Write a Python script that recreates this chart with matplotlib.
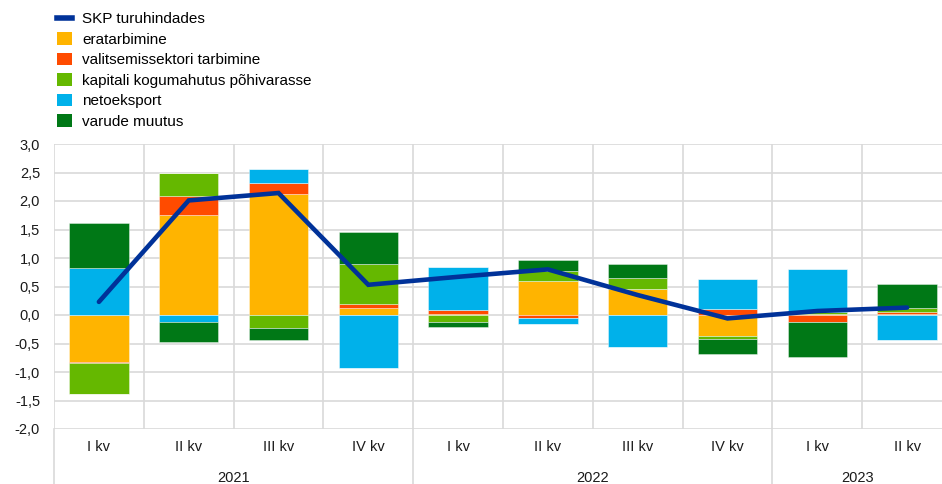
import matplotlib
matplotlib.use("Agg")
import matplotlib.pyplot as plt
import numpy as np
from matplotlib.patches import Patch
from matplotlib.lines import Line2D

plt.rcParams['font.family'] = ['Liberation Sans', 'DejaVu Sans']

quarters = ["I kv", "II kv", "III kv", "IV kv", "I kv", "II kv", "III kv", "IV kv", "I kv", "II kv"]
years = ["2021", "2022", "2023"]
year_counts = [4, 4, 2]

series_names = ["eratarbimine", "valitsemissektori tarbimine",
                "kapitali kogumahutus põhivarasse", "netoeksport", "varude muutus"]
eratarbimine = [-0.82, 1.75, 2.12, 0.13, 0.01, 0.59, 0.46, -0.37, 0.02, 0.01]
valitsemis = [-0.03, 0.33, 0.20, 0.06, 0.07, -0.06, 0.00, 0.10, -0.13, 0.05]
kapitali = [-0.53, 0.41, -0.22, 0.71, -0.13, 0.19, 0.19, -0.05, 0.04, 0.06]
netoeksport = [0.82, -0.12, 0.25, -0.93, 0.77, -0.09, -0.57, 0.53, 0.74, -0.43]
varude = [0.79, -0.36, -0.21, 0.55, -0.08, 0.18, 0.24, -0.27, -0.61, 0.43]
gdp_name = "SKP turuhindades"
gdp = [0.23, 2.01, 2.14, 0.53, 0.67, 0.80, 0.35, -0.06, 0.07, 0.13]

colors = ["#FFB400", "#FF4B00", "#65B800", "#00B1EA", "#007816"]
line_color = "#003299"
grid_color = "#D9D9D9"

fig = plt.figure(figsize=(9.42, 4.84), dpi=100)
W, H = 942, 484
left_px, right_px, top_px, bot_px = 54, 952, 144, 429
ax = fig.add_axes([left_px / W, 1 - bot_px / H, (right_px - left_px) / W, (bot_px - top_px) / H])

n = len(quarters)
x = np.arange(n)
data = [eratarbimine, valitsemis, kapitali, netoeksport, varude]
pos_base = np.zeros(n)
neg_base = np.zeros(n)
for vals, c in zip(data, colors):
    v = np.array(vals)
    p = np.where(v > 0, v, 0)
    q = np.where(v < 0, v, 0)
    ax.bar(x, p, 0.66, bottom=pos_base, color=c, edgecolor=(1, 1, 1, 0.45), linewidth=0.6, zorder=3)
    ax.bar(x, q, 0.66, bottom=neg_base, color=c, edgecolor=(1, 1, 1, 0.45), linewidth=0.6, zorder=3)
    pos_base += p
    neg_base += q

ax.plot(x, gdp, color=line_color, lw=3.3, solid_capstyle='round', solid_joinstyle='miter', zorder=4)

ax.set_xlim(-0.5, n - 0.5)
ax.set_ylim(-2.0, 3.0)
yt = np.arange(-2.0, 3.01, 0.5)
ax.set_yticks(yt)
ax.set_yticklabels([f"{t:.1f}".replace(".", ",") for t in yt], fontsize=10.5, color="#1a1a1a")
ax.tick_params(axis='y', length=0, pad=10)
ax.set_xticks([])
for s in ax.spines.values():
    s.set_visible(False)
for t in yt:
    ax.axhline(t, color=grid_color, lw=1.2, zorder=1)
for b in np.arange(-0.5, n, 1.0):
    ax.axvline(b, color=grid_color, lw=1.2, zorder=1)

trans = ax.get_xaxis_transform()
for i, q in enumerate(quarters):
    ax.text(i, -0.063, q, transform=trans, ha='center', va='center', fontsize=10.5, color="#1a1a1a")

start = 0
year_bounds = [-0.5]
for yname, cnt in zip(years, year_counts):
    center = start + cnt / 2 - 0.5
    if start + cnt >= n:
        center = (start - 0.5 + (942 - left_px) / ((right_px - left_px) / n) - 0.5) / 2
    ax.text(center, -0.172, yname, transform=trans, ha='center', va='center', fontsize=10.5, color="#1a1a1a")
    start += cnt
    year_bounds.append(start - 0.5)
for b in year_bounds:
    ax.plot([b, b], [0, -0.2], transform=trans, color=grid_color, lw=1.2, clip_on=False, zorder=1)

handles = [Line2D([0], [0], color=line_color, lw=4)] + [Patch(facecolor=c) for c in colors]
labels = [gdp_name] + series_names
fig.legend(handles, labels, loc='upper left', bbox_to_anchor=(57 / W, 1 - 12 / H), frameon=False,
           fontsize=11, handlelength=1.0, handleheight=0.85, handletextpad=0.65, labelspacing=0.4,
           borderaxespad=0, borderpad=0)

fig.savefig("out.png", dpi=100)
